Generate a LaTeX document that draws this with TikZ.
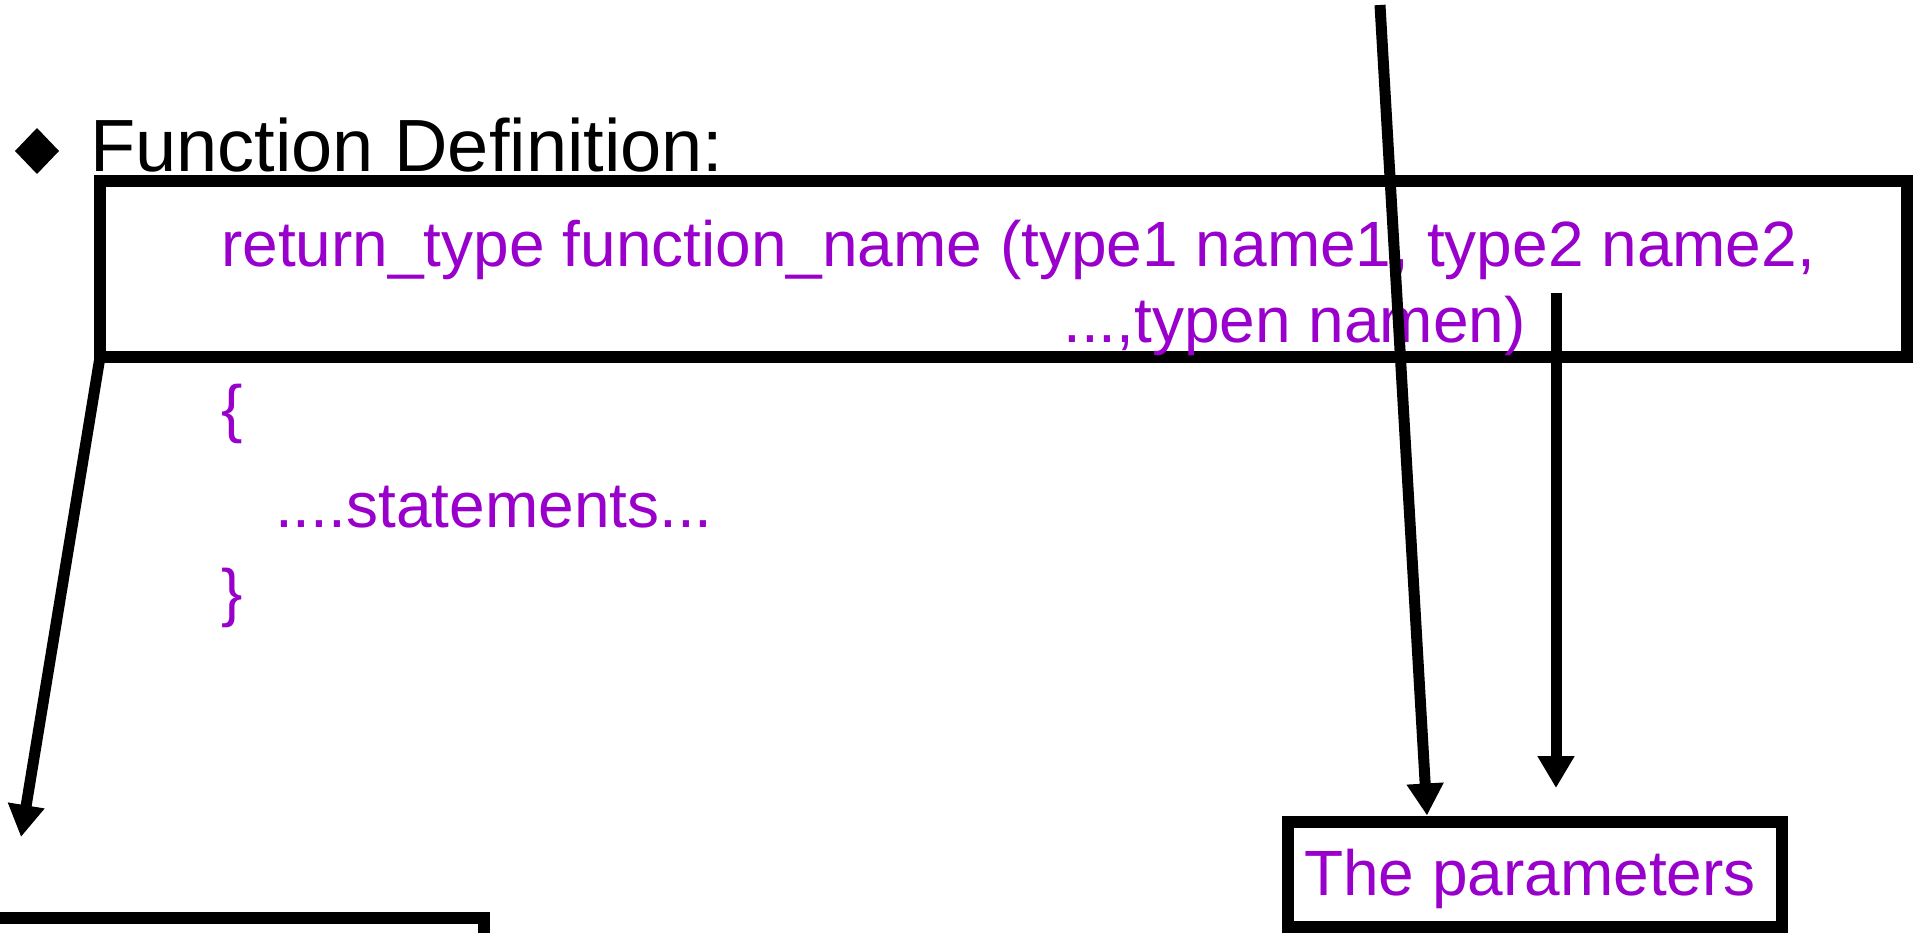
\documentclass[tikz,border=0pt]{standalone}
\usepackage{fontspec}
\setmainfont{Liberation Sans}
\usetikzlibrary{arrows.meta}
\definecolor{codepurple}{RGB}{153,0,204}
\tikzset{
  frame/.style={draw=black, line width=12pt, inner sep=0pt, outer sep=0pt},
  heading/.style={anchor=base west, inner sep=0pt, text=black,
    font=\fontsize{74pt}{89pt}\selectfont},
  code/.style={anchor=base west, inner sep=0pt, text=codepurple,
    font=\fontsize{64pt}{77pt}\selectfont},
  pointer/.style={draw=black, line width=11pt,
    -{Triangle[length=32pt,width=35pt]}},
}
\begin{document}
\begin{tikzpicture}[x=1pt, y=-1pt]
\useasboundingbox[fill=white] (0,0) rectangle (1923,933);

% bullet and heading
\fill[black] (37,128) -- (59,151) -- (37,174) -- (15,151) -- cycle;
\node[heading] (title) at (90,172) {Function Definition:};

% frame round the function header
\node[frame, minimum width=1807pt, minimum height=176pt] (defbox) at (1003.5,269) {};
\node[code] (line1) at (221,267) {return\_type function\_name (type1 name1, type2 name2,};
\node[code] (line2) at (1063,343) {...,typen namen)};

% function body
\node[code] (open)  at (221,430) {\{};
\node[code] (stmts) at (275,527) {....statements...};
\node[code] (close) at (221,614) {\}};

% parameter label box
\node[frame, outer sep=6pt, minimum width=494pt, minimum height=105pt] (params) at (1535,874) {};
\node[code] (paramtext) at (1304,895) {The parameters};

% return type box, running off the lower left
\node[frame, minimum width=560pt, minimum height=90pt] (retbox) at (204,962.5) {};

% pointers
\coordinate (topend) at (1380,5);
\coordinate (p2x) at (1427,0);
\coordinate (retend) at (21,837);
\coordinate (pstart) at (1556,293);
\coordinate (pend) at (1556,788);
\draw[pointer] (defbox.south west) -- (retend);
\draw[pointer] (topend) -- (p2x |- params.north);
\draw[pointer] (pstart) -- (pend);
\end{tikzpicture}
\end{document}
